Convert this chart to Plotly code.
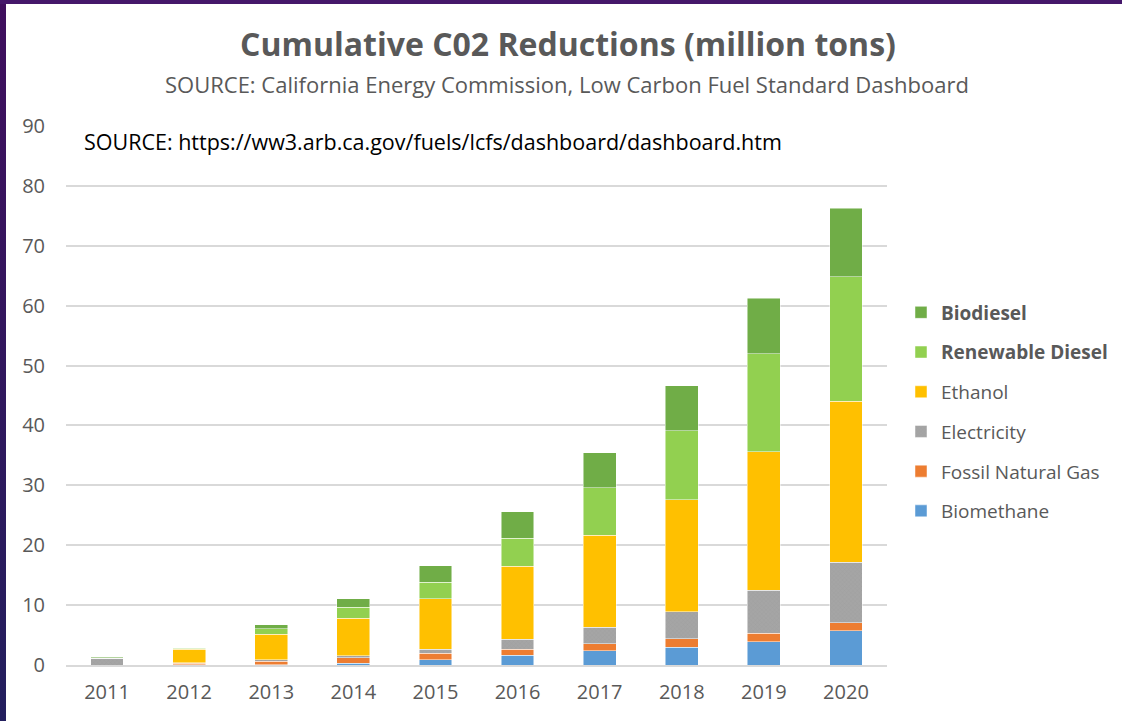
import plotly.graph_objects as go

# Years on the category axis
years = ["2011", "2012", "2013", "2014", "2015", "2016", "2017", "2018", "2019", "2020"]

# Cumulative CO2 reductions per fuel type (million tons), stacked bottom to top
biomethane = [0.0, 0.02, 0.05, 0.28, 0.90, 1.60, 2.34, 3.00, 3.90, 5.70]
fossil_natural_gas = [0.0, 0.28, 0.57, 0.91, 1.03, 1.00, 1.23, 1.35, 1.40, 1.35]
electricity = [1.15, 0.05, 0.28, 0.39, 0.67, 1.70, 2.73, 4.51, 7.20, 10.10]
ethanol = [0.0, 2.31, 4.24, 6.22, 8.50, 12.20, 15.40, 18.74, 23.10, 26.90]
renewable_diesel = [0.05, 0.14, 0.91, 1.86, 2.70, 4.70, 7.90, 11.50, 16.40, 20.75]
biodiesel = [0.15, 0.10, 0.65, 1.44, 2.80, 4.40, 5.80, 7.50, 9.20, 11.50]

series = [
    ("Biomethane", biomethane, "#5b9bd5"),
    ("Fossil Natural Gas", fossil_natural_gas, "#ed7d31"),
    ("Electricity", electricity, "#a5a5a5"),
    ("Ethanol", ethanol, "#ffc000"),
    ("<b>Renewable Diesel</b>", renewable_diesel, "#92d050"),
    ("<b>Biodiesel</b>", biodiesel, "#70ad47"),
]

TEXT_GRAY = "#595959"
GRID = "#d9d9d9"

fig = go.Figure()
n = len(series)
for i, (name, vals, color) in enumerate(series):
    marker = dict(color=color, line=dict(color="rgba(255,255,255,0.6)", width=0.8))
    if name == "Electricity":
        marker["pattern"] = dict(shape="x", size=3, solidity=0.25,
                                 fgcolor="#979797", bgcolor=color)
    # top segment of the stack is listed first in the legend
    fig.add_trace(go.Bar(x=years, y=vals, name=name, marker=marker,
                         legendgroup=name, legendrank=n - i))

# Thin dark frame on the top and left edges of the slide
gradient_svg = (
    "data:image/svg+xml;utf8,"
    "<svg xmlns='http://www.w3.org/2000/svg' width='10' height='100' preserveAspectRatio='none'>"
    "<defs><linearGradient id='g' x1='0' y1='0' x2='0' y2='1'>"
    "<stop offset='0' stop-color='%23400f5e'/><stop offset='1' stop-color='%23231f5e'/>"
    "</linearGradient></defs><rect width='10' height='100' fill='url(%23g)'/></svg>"
)

W, H = 1122, 721
L, R, T, B = 66, 235, 126, 56
pw, ph = W - L - R, H - T - B


def px_x(x):
    return (x - L) / pw


def px_y(y):
    return (H - B - y) / ph


fig.update_layout(
    width=W, height=H,
    margin=dict(l=L, r=R, t=T, b=B, autoexpand=False),
    paper_bgcolor="white",
    plot_bgcolor="white",
    barmode="stack",
    bargap=0.6,
    font=dict(family="Open Sans", color=TEXT_GRAY),
    title=dict(
        text="<b>Cumulative C02 Reductions (million tons)</b>",
        font=dict(family="Open Sans", size=32, color=TEXT_GRAY),
        x=px_x(568), xref="paper", xanchor="center",
        y=1 - 45 / H, yref="container", yanchor="middle",
    ),
    xaxis=dict(
        type="category",
        showgrid=False,
        showline=True, linecolor=GRID, linewidth=2,
        ticks="", tickfont=dict(size=20, color=TEXT_GRAY),
        ticklabelstandoff=8,
    ),
    yaxis=dict(
        range=[0, 90], dtick=10,
        showgrid=True, gridcolor=GRID, gridwidth=1.5,
        zeroline=False, showline=False,
        ticks="", tickfont=dict(size=20, color=TEXT_GRAY),
        ticklabelstandoff=20,
    ),
    legend=dict(
        traceorder="grouped",
        tracegroupgap=12,
        x=px_x(901), xanchor="left",
        y=px_y(412), yanchor="middle",
        font=dict(size=19, color=TEXT_GRAY),
        bgcolor="rgba(0,0,0,0)",
    ),
    annotations=[
        dict(
            text="SOURCE: California Energy Commission, Low Carbon Fuel Standard Dashboard",
            xref="paper", yref="paper", x=px_x(567), y=px_y(84),
            xanchor="center", yanchor="middle", showarrow=False,
            font=dict(family="Open Sans", size=22, color=TEXT_GRAY),
        ),
        dict(
            text="SOURCE: https://ww3.arb.ca.gov/fuels/lcfs/dashboard/dashboard.htm",
            xref="paper", yref="paper", x=px_x(82), y=px_y(142),
            xanchor="left", yanchor="middle", showarrow=False,
            font=dict(family="Open Sans", size=21.5, color="#000000"),
        ),
    ],
    shapes=[
        dict(type="rect", xref="paper", yref="paper",
             x0=px_x(0), x1=px_x(W), y0=px_y(0), y1=px_y(4),
             fillcolor="#45176a", line=dict(width=0), layer="above"),
    ],
    images=[
        dict(source=gradient_svg, xref="paper", yref="paper",
             x=px_x(0), y=px_y(0), sizex=6 / pw, sizey=H / ph,
             xanchor="left", yanchor="top", sizing="stretch", layer="above"),
    ],
)

fig.write_html("out.html")
